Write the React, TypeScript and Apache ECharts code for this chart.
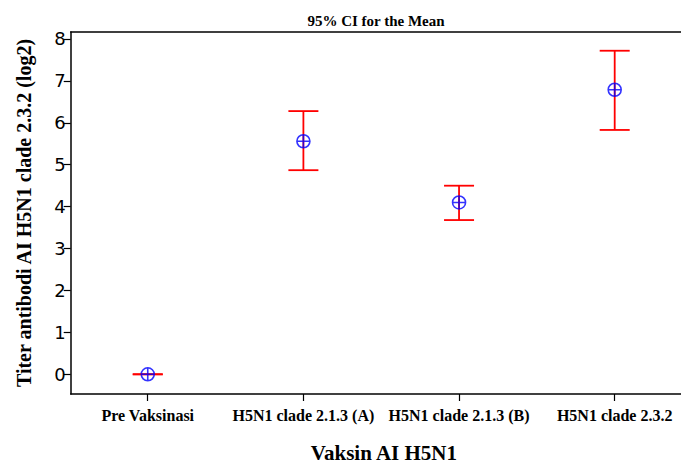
import React, { useEffect, useRef } from "react";
import * as echarts from "echarts";

const categories = [
  "Pre Vaksinasi",
  "H5N1 clade 2.1.3 (A)",
  "H5N1 clade 2.1.3 (B)",
  "H5N1 clade 2.3.2",
];
const means = [0, 5.56, 4.1, 6.79];
const lower = [0, 4.87, 3.68, 5.83];
const upper = [0, 6.28, 4.5, 7.72];
const yTicks = [0, 1, 2, 3, 4, 5, 6, 7, 8];
const xPositions = [0, 1, 2, 3];

const serif = "'Liberation Serif', 'Times New Roman', serif";
const sans = "'DejaVu Sans', Verdana, sans-serif";

export default function App() {
  const ref = useRef<HTMLDivElement>(null);
  useEffect(() => {
    if (!ref.current) return;
    const chart = echarts.init(ref.current, null, { renderer: "svg" });
    const errData = xPositions.map((x, i) => [x, lower[i], upper[i]]);
    const meanData = xPositions.map((x, i) => [x, means[i]]);
    chart.setOption({
      animation: false,
      backgroundColor: "#ffffff",
      title: {
        text: "95% CI for the Mean",
        left: 371,
        textAlign: "center",
        top: 8,
        textStyle: { fontFamily: serif, fontSize: 15, fontWeight: "bold", color: "#000" },
      },
      grid: { left: 70.7, right: 0, top: 32, bottom: 71, containLabel: false, outerBoundsMode: "none" },
      xAxis: [
        {
          type: "value",
          min: -0.495,
          max: 3.426,
          position: "bottom",
          splitLine: { show: false },
          axisLine: { show: true, onZero: false, lineStyle: { color: "#000", width: 1.5 } },
          axisTick: {
            show: true,
            customValues: xPositions,
            length: 7,
            lineStyle: { color: "#000", width: 1.2 },
          },
          axisLabel: {
            customValues: xPositions,
            margin: 13,
            formatter: (v: number) => categories[Math.round(v)] ?? "",
            fontFamily: serif,
            fontSize: 16,
            fontWeight: "bold",
            color: "#000",
          },
          name: "Vaksin AI H5N1",
          nameLocation: "middle",
          nameGap: 48,
          nameTextStyle: {
            fontFamily: serif,
            fontSize: 21,
            fontWeight: "bold",
            color: "#000",
            padding: [0, 0, 0, 16],
          },
        },
        {
          type: "value",
          min: -0.495,
          max: 3.426,
          position: "top",
          splitLine: { show: false },
          axisLine: { show: true, onZero: false, lineStyle: { color: "#000", width: 1.5 } },
          axisTick: { show: false },
          axisLabel: { show: false },
        },
      ],
      yAxis: {
        type: "value",
        min: -0.47,
        max: 8.167,
        splitLine: { show: false },
        axisLine: { show: true, onZero: false, lineStyle: { color: "#000", width: 1.5 } },
        axisTick: {
          show: true,
          customValues: yTicks,
          length: 7,
          lineStyle: { color: "#000", width: 1.2 },
        },
        axisLabel: {
          customValues: yTicks,
          margin: 5,
          fontFamily: sans,
          fontSize: 18,
          color: "#000",
        },
        name: "Titer antibodi AI H5N1 clade 2.3.2 (log2)",
        nameLocation: "middle",
        nameGap: 37,
        nameTextStyle: { fontFamily: serif, fontSize: 20, fontWeight: "bold", color: "#000" },
      },
      series: [
        {
          type: "custom",
          data: errData,
          z: 2,
          renderItem: (params: any, api: any) => {
            const x = api.value(0);
            const lo = api.coord([x, api.value(1)]);
            const hi = api.coord([x, api.value(2)]);
            const half = 15;
            const style = { stroke: "#ff0000", lineWidth: 1.8 };
            return {
              type: "group",
              children: [
                { type: "line", shape: { x1: lo[0], y1: lo[1], x2: hi[0], y2: hi[1] }, style },
                { type: "line", shape: { x1: hi[0] - half, y1: hi[1], x2: hi[0] + half, y2: hi[1] }, style },
                { type: "line", shape: { x1: lo[0] - half, y1: lo[1], x2: lo[0] + half, y2: lo[1] }, style },
              ],
            };
          },
        },
        {
          type: "scatter",
          data: meanData,
          z: 3,
          symbol: "path://M-10,0A10,10 0 1,1 10,0A10,10 0 1,1 -10,0ZM-10,0L10,0M0,-10L0,10",
          symbolSize: 13,
          itemStyle: { color: "rgba(0,0,0,0)", borderColor: "#0000ff", borderWidth: 1.6 },
        },
      ],
    });
    return () => chart.dispose();
  }, []);
  return (
    <div
      ref={ref}
      style={{ position: "absolute", left: 0, top: 0, width: 681, height: 465 }}
    />
  );
}
